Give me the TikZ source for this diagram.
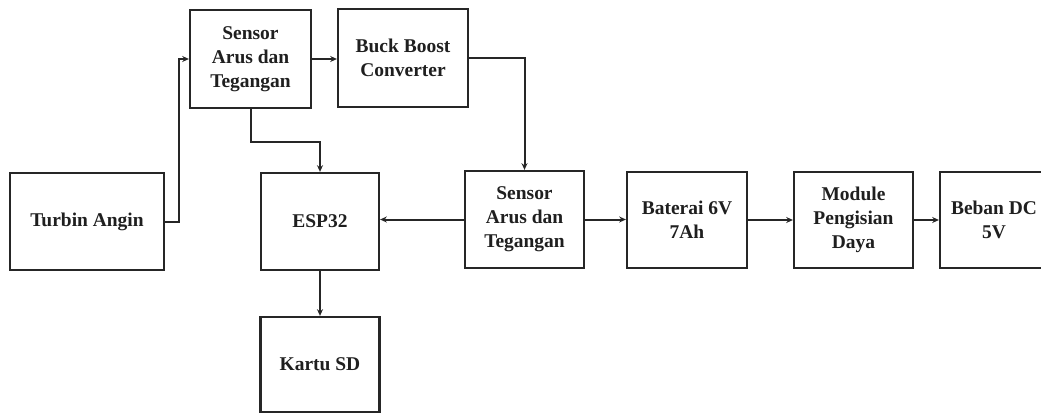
\documentclass[tikz,border=0pt]{standalone}
\usepackage{fontspec}
\setmainfont{Liberation Serif}
\usetikzlibrary{arrows.meta}
\begin{document}
\begin{tikzpicture}[x=0.75pt,y=-0.75pt,
  blk/.style={draw=black!85,line width=1.7pt,fill=white,inner sep=0pt,align=center,
    font=\fontsize{14.6pt}{18pt}\selectfont\bfseries,text=black!88},
  arr/.style={draw=black!85,line width=1.5pt,-{Stealth[length=5pt,width=4.5pt]}}]
\useasboundingbox[fill=white] (0,0) rectangle (1041,414);
\node[blk,minimum width=115.5pt,minimum height=72.75pt] (turb) at (87,221.5) {Turbin Angin};
\node[blk,minimum width=90.75pt,minimum height=73.5pt] (s1) at (250.5,59) {Sensor\\Arus dan\\Tegangan};
\node[blk,minimum width=97.5pt,minimum height=73.5pt] (buck) at (403,58) {Buck Boost\\Converter};
\node[blk,minimum width=88.5pt,minimum height=72.75pt] (esp) at (320,221.5) {ESP32};
\node[blk,minimum width=89.25pt,minimum height=72.75pt] (s2) at (524.5,219.5) {Sensor\\Arus dan\\Tegangan};
\node[blk,minimum width=90pt,minimum height=72pt] (bat) at (687,220) {Baterai 6V\\7Ah};
\node[blk,minimum width=89.25pt,minimum height=72pt] (mod) at (853.5,220) {Module\\Pengisian\\Daya};
\node[blk,minimum width=81pt,minimum height=72pt] (beb) at (994,220) {Beban DC\\5V};
\node[blk,minimum width=89.25pt,minimum height=71.25pt] (sd) at (320,364.5) {Kartu SD};
\draw[arr] (turb.east) -- ++(14,0) |- (s1.west);
\draw[arr] (s1.east) -- (s1.east -| buck.west);
\draw[arr] (s1.south) -- ++(0,33) -| (esp.north);
\draw[arr] (buck.east) -| (s2.north);
\draw[arr] (s2.west) -- (s2.west -| esp.east);
\draw[arr] (s2.east) -- (s2.east -| bat.west);
\draw[arr] (bat.east) -- (bat.east -| mod.west);
\draw[arr] (mod.east) -- (mod.east -| beb.west);
\draw[arr] (esp.south) -- (esp.south |- sd.north);
\end{tikzpicture}
\end{document}
